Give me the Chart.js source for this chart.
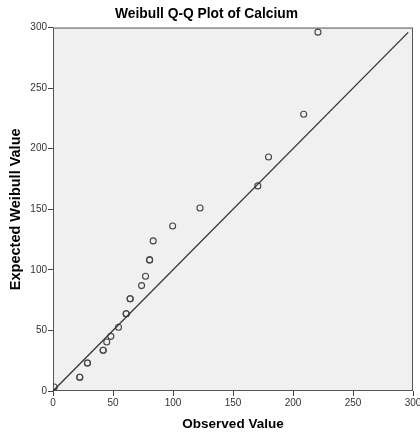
<!DOCTYPE html>
<html>
<head>
<meta charset="utf-8">
<script src="https://cdn.jsdelivr.net/npm/chart.js@4/dist/chart.umd.min.js"></script>
<style>
html,body{margin:0;padding:0;background:#fff;}
#wrap{width:420px;height:433px;position:relative;}
</style>
</head>
<body>
<div id="wrap"><canvas id="c" width="420" height="433"></canvas></div>
<script>
// Data
const observed = [1, 22.3, 22.3, 28.7, 28.7, 41.8, 41.8, 44.8, 48.2, 54.6, 61, 61, 64.3, 64.3, 73.8, 77.1, 80.5, 80.5, 83.5, 99.7, 122.5, 170.7, 179.6, 208.9, 220.8];
const expected = [3.3, 11.3, 11.3, 23.1, 23.1, 33.6, 33.6, 40.5, 45.1, 52.6, 63.8, 63.8, 76.2, 76.2, 87, 94.7, 108.2, 108.2, 123.9, 136.2, 151.1, 169.3, 193.2, 228.5, 296.2];
const refLineX = [0, 296];
const refLineY = [0, 296];
const axisTicks = [0, 50, 100, 150, 200, 250, 300];

const titleText = 'Weibull Q-Q Plot of Calcium';
const xTitle = 'Observed Value';
const yTitle = 'Expected Weibull Value';

const FONT = "'Liberation Sans', Arial, sans-serif";

const pts = observed.map((x, i) => ({x: x, y: expected[i]}));
const linePts = refLineX.map((x, i) => ({x: x, y: refLineY[i]}));

const plotFrame = {
  id: 'plotFrame',
  beforeDatasetsDraw(chart) {
    const {ctx, chartArea: a} = chart;
    ctx.save();
    ctx.fillStyle = '#f0f0f0';
    ctx.fillRect(a.left, a.top, a.right - a.left, a.bottom - a.top);
    ctx.strokeStyle = '#555';
    ctx.lineWidth = 1;
    ctx.strokeRect(a.left + 0.5, a.top + 0.5, a.right - a.left - 1, a.bottom - a.top - 1);
    ctx.restore();
  }
};

new Chart(document.getElementById('c'), {
  type: 'scatter',
  data: {
    datasets: [
      {
        type: 'line',
        data: linePts,
        borderColor: '#333',
        borderWidth: 1.3,
        pointRadius: 0,
        fill: false,
        tension: 0
      },
      {
        type: 'scatter',
        data: pts,
        pointRadius: 3,
        pointBorderWidth: 1.1,
        pointBorderColor: '#444',
        pointBackgroundColor: 'rgba(0,0,0,0)',
        pointHoverRadius: 3
      }
    ]
  },
  options: {
    responsive: false,
    animation: false,
    devicePixelRatio: 1,
    layout: {padding: {left: 0, right: 7, top: 0, bottom: 0}},
    plugins: {
      legend: {display: false},
      tooltip: {enabled: false},
      title: {
        display: true,
        text: titleText,
        color: '#000',
        font: {family: FONT, size: 13.8, weight: 'bold', lineHeight: 1.2},
        padding: {top: 6, bottom: 5}
      }
    },
    scales: {
      x: {
        type: 'linear',
        min: 0, max: 300,
        afterBuildTicks(s) { s.ticks = axisTicks.map(v => ({value: v})); },
        afterFit(s) { s.height = 42; s.paddingLeft = 0; s.paddingRight = 0; },
        ticks: {color: '#333', font: {family: FONT, size: 10}, padding: 1, maxRotation: 0, autoSkip: false},
        grid: {drawOnChartArea: false, drawTicks: true, tickLength: 5, color: '#444'},
        border: {display: false},
        title: {display: true, text: xTitle, color: '#000', font: {family: FONT, size: 13.5, weight: 'bold', lineHeight: 1.2}, padding: {top: 0, bottom: 1}}
      },
      y: {
        type: 'linear',
        min: 0, max: 300,
        afterBuildTicks(s) { s.ticks = axisTicks.map(v => ({value: v})); },
        afterFit(s) { s.width = 53; s.paddingTop = 0; s.paddingBottom = 0; },
        ticks: {color: '#333', font: {family: FONT, size: 10}, padding: 1, autoSkip: false},
        grid: {drawOnChartArea: false, drawTicks: true, tickLength: 5, color: '#444'},
        border: {display: false},
        title: {display: true, text: yTitle, color: '#000', font: {family: FONT, size: 14.5, weight: 'bold', lineHeight: 1.2}, padding: {top: 7, bottom: 0}}
      }
    }
  },
  plugins: [plotFrame]
});
</script>
</body>
</html>
